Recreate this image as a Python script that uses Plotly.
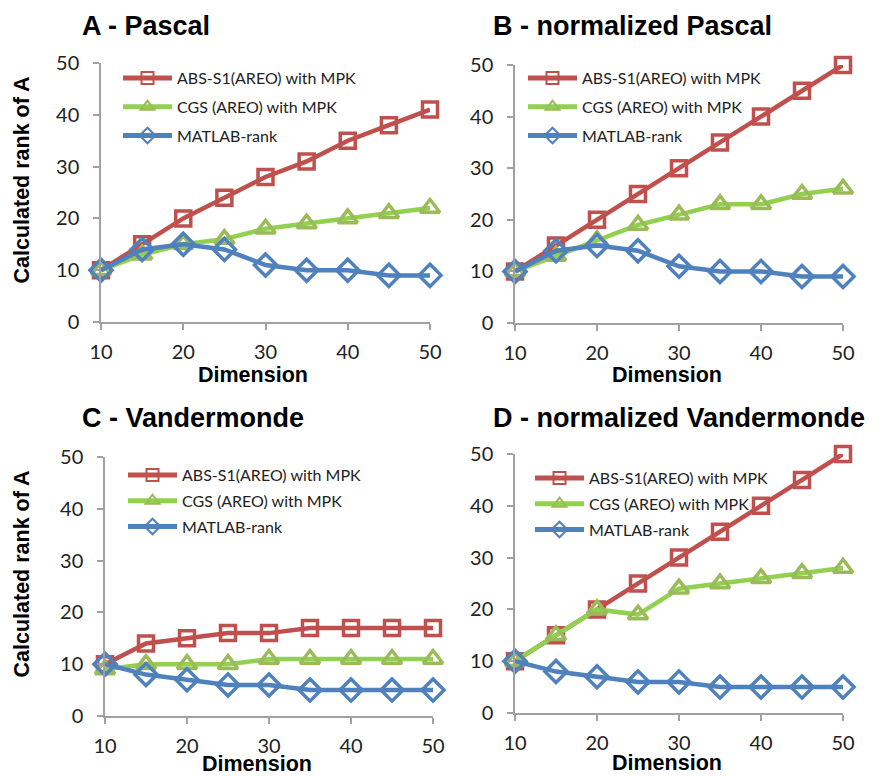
import plotly.graph_objects as go

dimension = [10, 15, 20, 25, 30, 35, 40, 45, 50]

series_names = ["ABS-S1(AREO) with MPK", "CGS (AREO) with MPK", "MATLAB-rank"]

a_abs = [10, 15, 20, 24, 28, 31, 35, 38, 41]
a_cgs = [10, 13, 15, 16, 18, 19, 20, 21, 22]
a_mat = [10, 14, 15, 14, 11, 10, 10, 9, 9]

b_abs = [10, 15, 20, 25, 30, 35, 40, 45, 50]
b_cgs = [10, 13, 16, 19, 21, 23, 23, 25, 26]
b_mat = [10, 14, 15, 14, 11, 10, 10, 9, 9]

c_abs = [10, 14, 15, 16, 16, 17, 17, 17, 17]
c_cgs = [9, 10, 10, 10, 11, 11, 11, 11, 11]
c_mat = [10, 8, 7, 6, 6, 5, 5, 5, 5]

d_abs = [10, 15, 20, 25, 30, 35, 40, 45, 50]
d_cgs = [10, 15, 20, 19, 24, 25, 26, 27, 28]
d_mat = [10, 8, 7, 6, 6, 5, 5, 5, 5]

panel_titles = ["A - Pascal", "B - normalized Pascal", "C - Vandermonde", "D - normalized Vandermonde"]
x_title = "Dimension"
y_title = "Calculated rank of A"
x_ticks = [10, 20, 30, 40, 50]
y_ticks = [0, 10, 20, 30, 40, 50]

W, H = 881, 776
OFF = 8  # the page body adds an 8px margin; place everything relative to it
RED = "#c0504d"
GREEN_LINE = "#92d050"
GREEN_MK = "#9bbb59"
BLUE = "#4f81bd"
AXC = "#a0a0a0"
TICKFONT = "Lato, Liberation Sans, sans-serif"
BOLD = "Liberation Sans, Arial, sans-serif"


def px(x):
    return (x - OFF) / W


def py(y):
    return 1 - (y - OFF) / H


# pixel boxes in the reference: (x0, x1, ytop, ybottom)
boxes = [(101, 430, 63, 322), (515, 843, 65, 323), (105, 433, 457, 716), (515, 843, 454, 713)]
legend_pos = [(118, 61), (523, 61), (123, 458), (530, 461)]
legend_gap = [5, 5, 2, 2]
xtitle_y = [375, 375, 764, 763]
data = [(a_abs, a_cgs, a_mat), (b_abs, b_cgs, b_mat), (c_abs, c_cgs, c_mat), (d_abs, d_cgs, d_mat)]

fig = go.Figure()
styles = [
    dict(line=dict(color=RED, width=4.5),
         marker=dict(symbol="square-open", size=15, color=RED, line=dict(color=RED, width=3.5))),
    dict(line=dict(color=GREEN_LINE, width=4.5),
         marker=dict(symbol="triangle-up-open", size=17, color=GREEN_MK, line=dict(color=GREEN_MK, width=3.5))),
    dict(line=dict(color=BLUE, width=4.5),
         marker=dict(symbol="diamond-open", size=17, color=BLUE, line=dict(color=BLUE, width=3.5))),
]

layout = dict(width=W, height=H, margin=dict(l=0, r=0, t=0, b=0, autoexpand=False),
              paper_bgcolor="white", plot_bgcolor="white", showlegend=True)
annotations = []

for i, (box, vals) in enumerate(zip(boxes, data)):
    n = "" if i == 0 else str(i + 1)
    leg = "legend" if i == 0 else f"legend{i + 1}"
    x0, x1, yt, yb = box
    for j, (name, v) in enumerate(zip(series_names, vals)):
        fig.add_trace(go.Scatter(x=dimension, y=v, name=name, mode="lines+markers",
                                 xaxis="x" + n, yaxis="y" + n, legend=leg, cliponaxis=False,
                                 legendgroup=f"p{i}s{j}", **styles[j]))
    common = dict(showgrid=False, zeroline=False, showline=True, linecolor=AXC, linewidth=1.5,
                  ticks="outside", ticklen=6, tickcolor=AXC, tickwidth=1.5, automargin=False,
                  tickfont=dict(family=TICKFONT, size=20, color="#222"))
    layout["xaxis" + n] = dict(domain=[px(x0), px(x1)], range=[10, 50], anchor="y" + n,
                               tickvals=x_ticks, ticklabelstandoff=5, **common)
    layout["yaxis" + n] = dict(domain=[py(yb), py(yt)], range=[0, 50], anchor="x" + n,
                               tickvals=y_ticks, ticklabelstandoff=10, **common)
    lx, ly = legend_pos[i]
    layout[leg] = dict(x=px(lx), y=py(ly), xanchor="left", yanchor="top",
                       bgcolor="rgba(0,0,0,0)", itemwidth=49, tracegroupgap=legend_gap[i],
                       itemsizing="constant",
                       font=dict(family=TICKFONT, size=16, color="#222"))
    # panel title
    annotations.append(dict(text="<b>" + panel_titles[i] + "</b>", xref="paper", yref="paper",
                            x=px(80 if i % 2 == 0 else 491),
                            y=py(26 if i < 2 else 418),
                            xanchor="left", yanchor="middle", showarrow=False,
                            font=dict(family=BOLD, size=27, color="black")))
    # x title
    annotations.append(dict(text="<b>" + x_title + "</b>", xref="paper", yref="paper",
                            x=px((x0 + x1) / 2 - 12),
                            y=py(xtitle_y[i]), xanchor="center", yanchor="middle",
                            showarrow=False, font=dict(family=BOLD, size=21.5, color="black")))
    if i % 2 == 0:
        annotations.append(dict(text="<b>" + y_title + "</b>", xref="paper", yref="paper",
                                x=px(21), y=py((yt + yb) / 2 - 12),
                                xanchor="center", yanchor="middle", textangle=-90,
                                showarrow=False, font=dict(family=BOLD, size=21.5, color="black")))

layout["annotations"] = annotations
fig.update_layout(**layout)
fig.write_html("out.html")
